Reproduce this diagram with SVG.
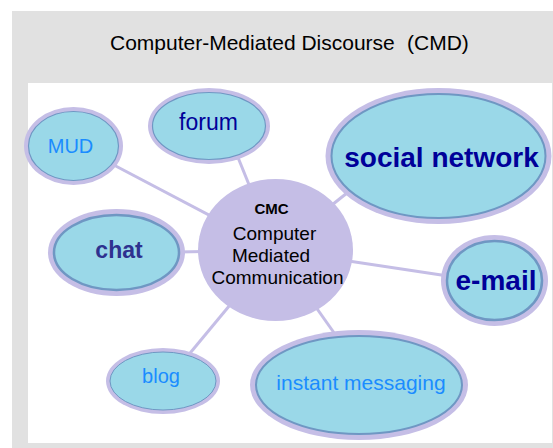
<svg xmlns="http://www.w3.org/2000/svg" width="553" height="448" viewBox="0 0 553 448">
  <style>
    .halo { fill: #c5bee6; }
    .body { fill: #9ad8e8; stroke: #6f97c3; }
    .link { stroke: #c5bee6; stroke-width: 3; stroke-linecap: butt; }
    text { font-family: "Liberation Sans", Arial, sans-serif; text-anchor: middle; }
    .light { fill: #1a8cff; }
    .dark { fill: #000099; }
    .bold { font-weight: bold; }
    .hub { fill: #000000; }
  </style>

  <!-- background panels -->
  <rect x="0" y="0" width="553" height="448" fill="#ffffff"/>
  <rect x="12" y="11" width="541" height="437" fill="#e1e1e1"/>
  <rect x="28" y="83" width="524" height="360" fill="#ffffff"/>

  <text x="110" y="50" font-size="21" style="text-anchor:start" fill="#000000">Computer-Mediated Discourse<tspan x="407">(CMD)</tspan></text>

  <!-- connectors radiating from the hub -->
  <g id="connectors">
    <line class="link" x1="275.5" y1="250" x2="110" y2="163"/>
    <line class="link" x1="275.5" y1="250" x2="237" y2="155"/>
    <line class="link" x1="275.5" y1="250" x2="352" y2="189"/>
    <line class="link" x1="275.5" y1="250" x2="178" y2="252"/>
    <line class="link" x1="275.5" y1="250" x2="448" y2="276"/>
    <line class="link" x1="275.5" y1="250" x2="337" y2="337"/>
    <line class="link" x1="275.5" y1="250" x2="186" y2="358"/>
  </g>

  <!-- hub -->
  <g id="cmc">
    <ellipse cx="275.5" cy="250" rx="77.5" ry="71" fill="#c5bee6"/>
    <text class="hub bold" x="271.5" y="214" font-size="15">CMC</text>
    <text class="hub" x="274.5" y="240" font-size="19">Computer</text>
    <text class="hub" x="271" y="262" font-size="19">Mediated</text>
    <text class="hub" x="277.5" y="284" font-size="19">Communication</text>
  </g>

  <g id="mud">
    <ellipse class="halo" cx="73.5" cy="146" rx="49.5" ry="39"/>
    <ellipse class="body" cx="73.5" cy="146" rx="45" ry="34.5" stroke-width="1.2"/>
    <text class="light" x="70.5" y="153" font-size="20">MUD</text>
  </g>

  <g id="forum">
    <ellipse class="halo" cx="209" cy="126" rx="61" ry="38"/>
    <ellipse class="body" cx="209" cy="126" rx="56.5" ry="33.5" stroke-width="1.2"/>
    <text class="dark" x="208.5" y="130" font-size="23">forum</text>
  </g>

  <g id="social-network">
    <ellipse class="halo" cx="438.5" cy="156" rx="113" ry="68"/>
    <ellipse class="body" cx="438.5" cy="156" rx="107" ry="62" stroke-width="2"/>
    <text class="dark bold" x="441.5" y="167" font-size="28">social network</text>
  </g>

  <g id="chat">
    <ellipse class="halo" cx="116.5" cy="252.5" rx="68.5" ry="43.5"/>
    <ellipse class="body" cx="116.5" cy="252.5" rx="62.5" ry="37.5" stroke-width="2.5"/>
    <text class="bold" x="119" y="258" font-size="23" fill="#2e318f">chat</text>
  </g>

  <g id="e-mail">
    <ellipse class="halo" cx="494.5" cy="280.5" rx="53.5" ry="45.5"/>
    <ellipse class="body" cx="494.5" cy="280.5" rx="47.5" ry="39.5" stroke-width="2.5"/>
    <text class="dark bold" x="496" y="290" font-size="28">e-mail</text>
  </g>

  <g id="instant-messaging">
    <ellipse class="halo" cx="359" cy="385" rx="109" ry="55"/>
    <ellipse class="body" cx="359" cy="385" rx="103" ry="49" stroke-width="2"/>
    <text class="light" x="361" y="390" font-size="21">instant messaging</text>
  </g>

  <g id="blog">
    <ellipse class="halo" cx="163" cy="381" rx="57" ry="33"/>
    <ellipse class="body" cx="163" cy="381" rx="53" ry="29" stroke-width="1"/>
    <text class="light" x="161" y="383" font-size="20">blog</text>
  </g>
</svg>
